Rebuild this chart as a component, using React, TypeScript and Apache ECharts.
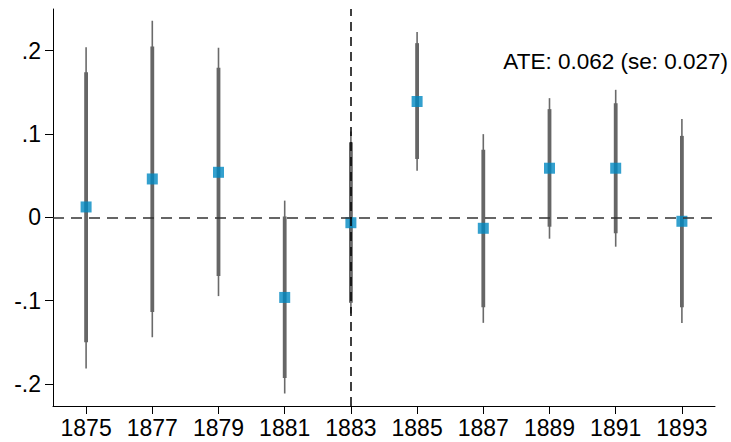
import React, { useEffect, useRef } from "react";
import * as echarts from "echarts";

const years = [1875, 1877, 1879, 1881, 1883, 1885, 1887, 1889, 1891, 1893];
const estimates = [0.0124, 0.046, 0.054, -0.0962, -0.0065, 0.139, -0.0132, 0.0589, 0.0589, -0.0048];
const lo95 = [-0.1815, -0.1439, -0.0946, -0.2115, -0.1154, 0.056, -0.1267, -0.0257, -0.0353, -0.127];
const hi95 = [0.204, 0.236, 0.2035, 0.02, 0.103, 0.2224, 0.0998, 0.143, 0.153, 0.118];
const lo90 = [-0.15, -0.1138, -0.0706, -0.1928, -0.1026, 0.07, -0.108, -0.0113, -0.0192, -0.108];
const hi90 = [0.174, 0.205, 0.1795, 0.001, 0.09, 0.209, 0.081, 0.1298, 0.137, 0.0977];
const yTicks = [-0.2, -0.1, 0, 0.1, 0.2];
const yTickLabels = ["-.2", "-.1", "0", ".1", ".2"];
const treatmentYear = 1883;
const ateText = "ATE: 0.062 (se: 0.027)";

const FONT = "Helvetica, 'Liberation Sans', Arial, sans-serif";

export default function App() {
  const ref = useRef<HTMLDivElement>(null);
  useEffect(() => {
    if (!ref.current) return;
    const chart = echarts.init(ref.current, null, { renderer: "svg" });
    const barData = years.map((y, i) => [y, lo95[i], hi95[i], lo90[i], hi90[i]]);
    const pointData = years.map((y, i) => [y, estimates[i]]);
    chart.setOption({
      animation: false,
      backgroundColor: "#ffffff",
      grid: { left: 53, right: 16, top: 9, bottom: 36 },
      xAxis: {
        type: "value",
        min: 1874,
        max: 1894,
        splitLine: { show: false },
        axisLine: { onZero: false, lineStyle: { color: "#000", width: 1 } },
        axisTick: { length: 8, lineStyle: { color: "#000" }, customValues: years },
        axisLabel: {
          customValues: years,
          color: "#000",
          fontSize: 23,
          fontFamily: FONT,
          margin: 10,
          formatter: (v: number) => String(v),
        },
      },
      yAxis: {
        type: "value",
        min: -0.2265,
        max: 0.25,
        splitLine: { show: false },
        axisLine: { show: true, onZero: false, lineStyle: { color: "#000", width: 1 } },
        axisTick: { show: true, length: 8, lineStyle: { color: "#000" }, customValues: yTicks },
        axisLabel: {
          customValues: yTicks,
          color: "#000",
          fontSize: 23,
          fontFamily: FONT,
          margin: 12,
          formatter: (v: number) => {
            const idx = yTicks.findIndex((t) => Math.abs(t - v) < 1e-9);
            return idx >= 0 ? yTickLabels[idx] : "";
          },
        },
      },
      graphic: [
        {
          type: "text",
          right: 3,
          top: 50,
          style: { text: ateText, font: `22.5px ${FONT}`, fill: "#000" },
        },
      ],
      series: [
        {
          type: "line",
          data: [],
          z: 1,
          markLine: {
            silent: true,
            symbol: "none",
            label: { show: false },
            data: [
              { yAxis: 0, lineStyle: { color: "#333", width: 1.5, type: [11, 7] } },
              { xAxis: treatmentYear, lineStyle: { color: "#000", width: 1.5, type: [9, 6] } },
            ],
          },
        },
        {
          type: "custom",
          z: 2,
          data: barData,
          encode: { x: 0, y: [1, 2, 3, 4] },
          renderItem: (params: any, api: any) => {
            const x = api.value(0);
            const a = api.coord([x, api.value(1)]);
            const b = api.coord([x, api.value(2)]);
            const c = api.coord([x, api.value(3)]);
            const d = api.coord([x, api.value(4)]);
            return {
              type: "group",
              children: [
                { type: "line", shape: { x1: a[0], y1: a[1], x2: b[0], y2: b[1] }, style: { stroke: "#6a6a6a", lineWidth: 1.6 } },
                { type: "line", shape: { x1: c[0], y1: c[1], x2: d[0], y2: d[1] }, style: { stroke: "#666666", lineWidth: 3.8 } },
              ],
            };
          },
        },
        {
          type: "scatter",
          z: 3,
          data: pointData,
          symbol: "rect",
          symbolSize: 11,
          itemStyle: { color: "#0088c2" },
        },
      ],
    });
    return () => chart.dispose();
  }, []);
  return <div ref={ref} style={{ position: "fixed", left: 0, top: 0, width: 731, height: 442 }} />;
}
